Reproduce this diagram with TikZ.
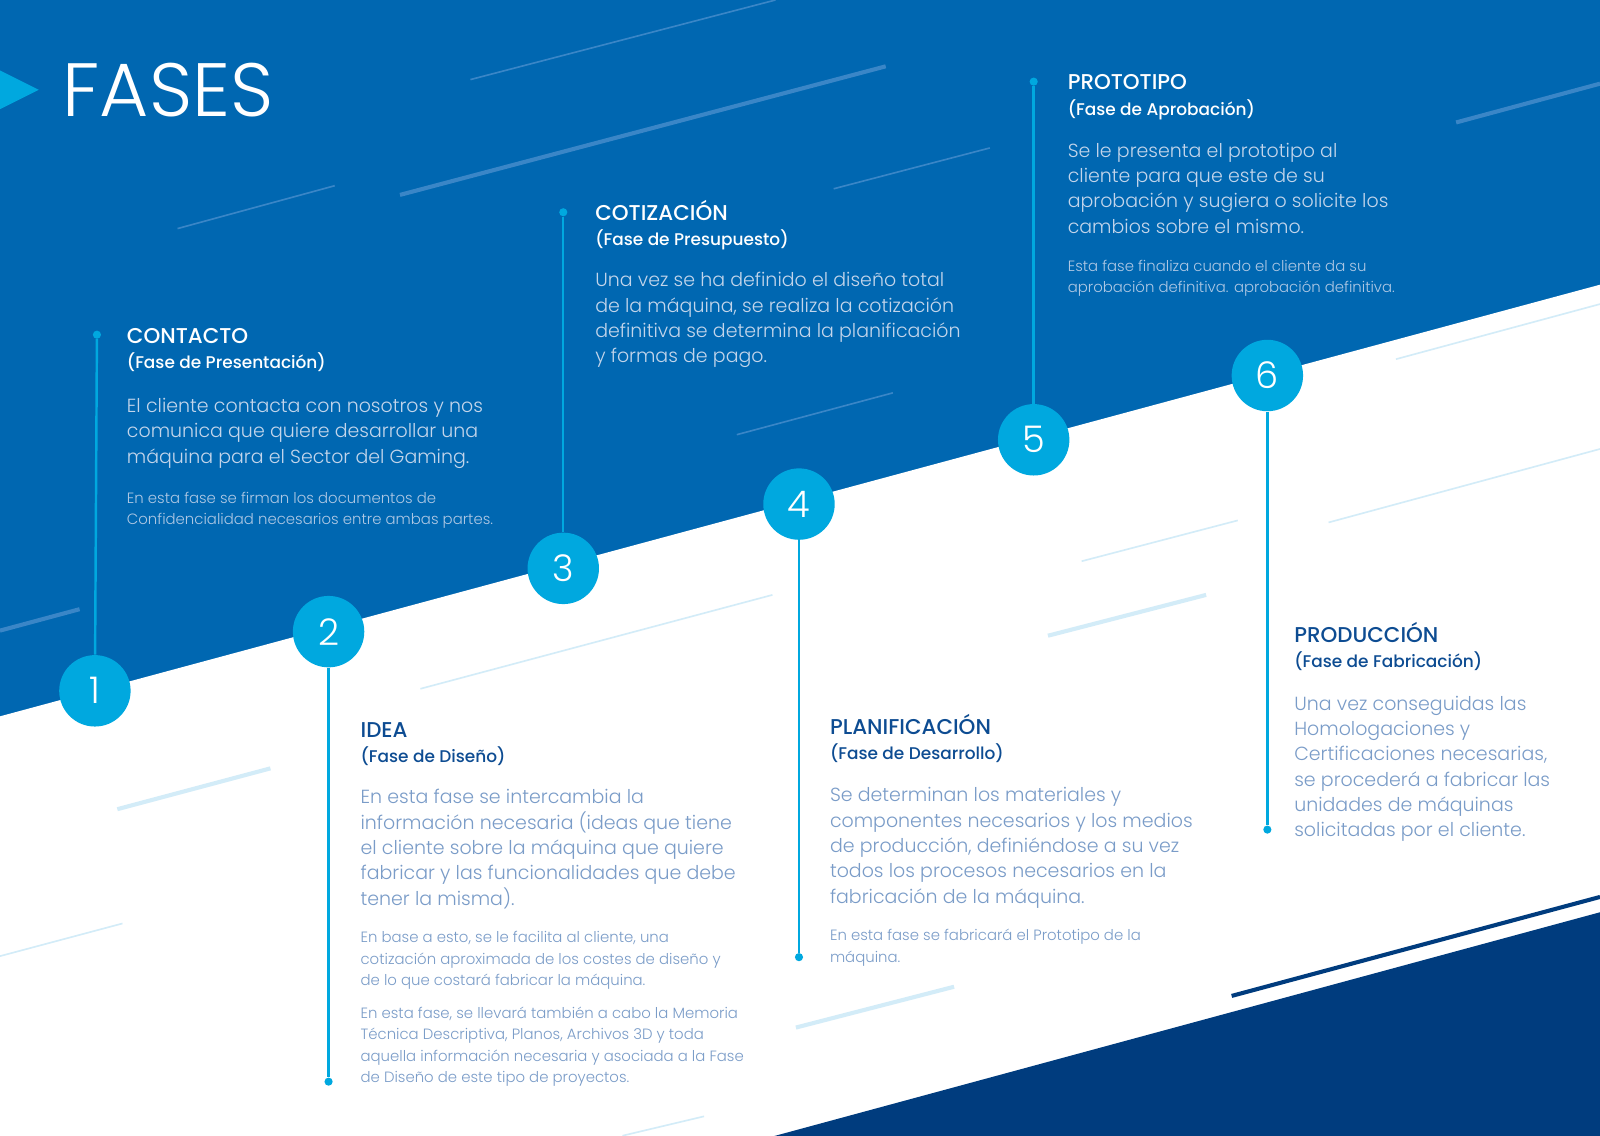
\documentclass[tikz,border=0pt]{standalone}
\usepackage{fontspec}
\setmainfont{Poppins}
\newfontfamily\plight{Poppins Light}
\newfontfamily\pmed{Poppins Medium}
\definecolor{bgblue}{HTML}{0067B1}
\definecolor{navy}{HTML}{003C7E}
\definecolor{cyanc}{HTML}{00A8DF}
\definecolor{streakb}{HTML}{3A86C7}
\definecolor{streakw}{HTML}{D3ECF8}
\definecolor{headw}{HTML}{0D4C92}
\definecolor{bodyw}{HTML}{7A9CC8}
\definecolor{bodyb}{HTML}{C3D5EB}
\definecolor{smallb}{HTML}{AFC8E4}
\tikzset{
  headtxt/.style={anchor=base west, inner sep=0pt, font=\pmed\fontsize{10.5pt}{12pt}\selectfont},
  subtxt/.style={anchor=base west, inner sep=0pt, font=\pmed\fontsize{8.3pt}{10pt}\selectfont},
  bodytxt/.style={anchor=base west, inner sep=0pt, align=left, font=\plight\fontsize{9.3pt}{12.4pt}\selectfont},
  smalltxt/.style={anchor=base west, inner sep=0pt, align=left, font=\plight\fontsize{7.3pt}{10.5pt}\selectfont},
  numc/.style={circle, fill=cyanc, minimum size=35pt, inner sep=0pt, text=white, font=\plight\fontsize{18pt}{18pt}\selectfont},
  enddot/.style={circle, fill=cyanc, minimum size=4pt, inner sep=0pt},
  vline/.style={draw=cyanc, line width=1.2pt},
  thinb/.style={draw=streakb, line width=0.8pt},
  thickb/.style={draw=streakb, line width=2pt},
  thinw/.style={draw=streakw, line width=0.8pt},
  thickw/.style={draw=streakw, line width=2pt}
}
\begin{document}
\begin{tikzpicture}[x=0.5pt,y=-0.5pt]
\useasboundingbox (0,0) rectangle (1568,1113);
\clip (0,0) rectangle (1568,1113);
% background
\fill[bgblue] (-10,-10) rectangle (1578,1123);
\fill[white] (-10,704.7) -- (1578,276.3) -- (1578,1123) -- (-10,1123) -- cycle;
\fill[navy] (723,1123) -- (1578,891.3) -- (1578,1123) -- cycle;
\draw[navy, line width=2pt] (1207,976) -- (1568,879);
% streaks on blue
\draw[thinb] (461,78) -- (760,0);
\draw[thickb] (392,191) -- (868,65);
\draw[thinb] (174,224) -- (328,182);
\draw[thinb] (817,185) -- (970,145);
\draw[thickb] (1427,120) -- (1568,82);
\draw[thickb] (0,618) -- (78,597);
\draw[thinb] (722,426) -- (875,385);
% streaks on white
\draw[thinw] (412,675) -- (757,583);
\draw[thickw] (115,793) -- (265,753);
\draw[thinw] (0,937) -- (120,905);
\draw[thickw] (780,1007) -- (935,967);
\draw[thickw] (1027,623) -- (1182,583);
\draw[thinw] (1060,550) -- (1213,510);
\draw[thinw] (1302,512) -- (1568,440);
\draw[thinw] (1368,352) -- (1568,298);
\draw[thinw] (610,1113) -- (690,1094);
% title
\fill[cyanc] (0,69) -- (38,88) -- (0,107) -- cycle;
\node[anchor=base west, inner sep=0pt, text=white, font=\plight\fontsize{37pt}{37pt}\selectfont] (title) at (61,114) {FASES};
% circles
\node[numc] (c1) at (93,677) {1};
\node[numc] (c2) at (322,619) {2};
\node[numc] (c3) at (552,557) {3};
\node[numc] (c4) at (783,494) {4};
\node[numc] (c5) at (1013,431) {5};
\node[numc] (c6) at (1242,368) {6};
% end dots
\node[enddot] (d1) at (95,328) {};
\node[enddot] (d2) at (322,1060) {};
\node[enddot] (d3) at (552,208) {};
\node[enddot] (d4) at (783,938) {};
\node[enddot] (d5) at (1013,80) {};
\node[enddot] (d6) at (1242,813) {};
\draw[vline] (d1) -- (c1);
\draw[vline] (c2) -- (d2);
\draw[vline] (d3) -- (c3);
\draw[vline] (c4) -- (d4);
\draw[vline] (d5) -- (c5);
\draw[vline] (c6) -- (d6);
% block 1 (base = baseline of the last line)
\node[headtxt, text=white] (h1) at (124,337) {CONTACTO};
\node[subtxt, text=white] (s1) at (124,361) {(Fase de Presentación)};
\node[bodytxt, text=bodyb] (b1) at (124,454) {El cliente contacta con nosotros y nos\\comunica que quiere desarrollar una\\máquina para el Sector del Gaming.};
\node[smalltxt, text=smallb] (m1) at (124,514) {En esta fase se firman los documentos de\\Confidencialidad necesarios entre ambas partes.};
% block 3
\node[headtxt, text=white] (h3) at (583,216) {COTIZACIÓN};
\node[subtxt, text=white] (s3) at (583,241) {(Fase de Presupuesto)};
\node[bodytxt, text=bodyb] (b3) at (583,355.5) {Una vez se ha definido el diseño total\\de la máquina, se realiza la cotización\\definitiva se determina la planificación\\y formas de pago.};
% block 5
\node[headtxt, text=white] (h5) at (1046,88) {PROTOTIPO};
\node[subtxt, text=white] (s5) at (1046,113) {(Fase de Aprobación)};
\node[bodytxt, text=bodyb] (b5) at (1046,228.5) {Se le presenta el prototipo al\\cliente para que este de su\\aprobación y sugiera o solicite los\\cambios sobre el mismo.};
\node[smalltxt, text=smallb] (m5) at (1046,287) {Esta fase finaliza cuando el cliente da su\\aprobación definitiva. aprobación definitiva.};
% block 2
\node[headtxt, text=headw] (h2) at (353,723) {IDEA};
\node[subtxt, text=headw] (s2) at (353,747) {(Fase de Diseño)};
\node[bodytxt, text=bodyw] (b2) at (353,887) {En esta fase se intercambia la\\información necesaria (ideas que tiene\\el cliente sobre la máquina que quiere\\fabricar y las funcionalidades que debe\\tener la misma).};
\node[smalltxt, text=bodyw] (m2) at (353,966) {En base a esto, se le facilita al cliente, una\\cotización aproximada de los costes de diseño y\\de lo que costará fabricar la máquina.};
\node[smalltxt, text=bodyw] (n2) at (353,1061) {En esta fase, se llevará también a cabo la Memoria\\Técnica Descriptiva, Planos, Archivos 3D y toda\\aquella información necesaria y asociada a la Fase\\de Diseño de este tipo de proyectos.};
% block 4
\node[headtxt, text=headw] (h4) at (813,720) {PLANIFICACIÓN};
\node[subtxt, text=headw] (s4) at (813,744) {(Fase de Desarrollo)};
\node[bodytxt, text=bodyw] (b4) at (813,885) {Se determinan los materiales y\\componentes necesarios y los medios\\de producción, definiéndose a su vez\\todos los procesos necesarios en la\\fabricación de la máquina.};
\node[smalltxt, text=bodyw] (m4) at (813,943) {En esta fase se fabricará el Prototipo de la\\máquina.};
% block 6
\node[headtxt, text=headw] (h6) at (1268,630) {PRODUCCIÓN};
\node[subtxt, text=headw] (s6) at (1268,654) {(Fase de Fabricación)};
\node[bodytxt, text=bodyw] (b6) at (1268,820) {Una vez conseguidas las\\Homologaciones y\\Certificaciones necesarias,\\se procederá a fabricar las\\unidades de máquinas\\solicitadas por el cliente.};
\end{tikzpicture}
\end{document}
